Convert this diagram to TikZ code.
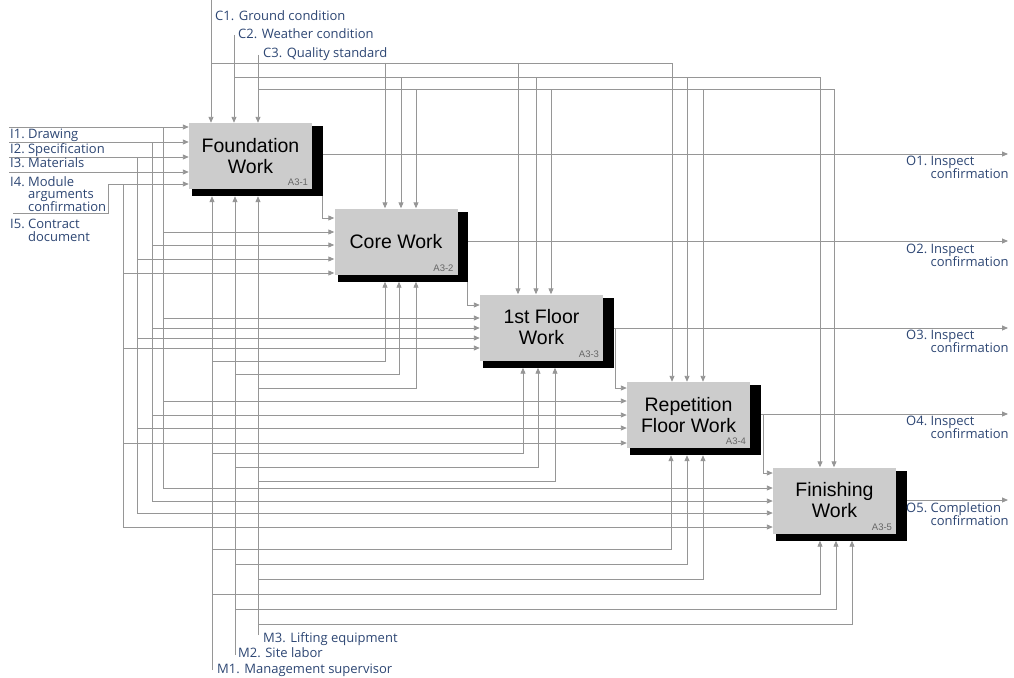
\documentclass[tikz,border=0pt]{standalone}
\usepackage{fontspec}
\setmainfont{Open Sans}
\newfontfamily\boxfont{Liberation Sans}
\usetikzlibrary{arrows.meta,shadows,backgrounds}

\definecolor{wiregray}{RGB}{150,150,150}
\definecolor{lblblue}{RGB}{45,70,115}
\definecolor{boxgray}{RGB}{204,204,204}

\tikzset{
  proc/.style={fill=boxgray, minimum width=123pt, minimum height=66pt, inner sep=0pt,
    align=center, font=\boxfont\fontsize{19.5}{21}\selectfont,
    general shadow={fill=black, shadow xshift=6.5pt, shadow yshift=-5pt, shadow scale=1.06}},
  procid/.style={anchor=south east, inner sep=0pt, text=black!60,
    font=\boxfont\fontsize{9.5}{10}\selectfont},
  lbl/.style={anchor=base west, inner sep=0pt, text=lblblue, font=\fontsize{13}{12.3}\selectfont},
  wire/.style={draw=wiregray, line width=0.9pt},
  arr/.style={wire, -{Triangle[length=6pt,width=5pt]}},
}

\begin{document}
\begin{tikzpicture}[x=1pt, y=-1pt]
  \useasboundingbox (0,0) rectangle (1014,677);

  % Activity boxes
  \node[proc] (A1) at (250.5,156)   {Foundation\\Work};
  \node[proc] (A2) at (396,241.5)   {Core Work};
  \node[proc] (A3) at (541.5,327.5) {1st Floor\\Work};
  \node[proc] (A4) at (688.5,415)   {Repetition\\Floor Work};
  \node[proc] (A5) at (834.5,500.5) {Finishing\\Work};
  \foreach \i in {1,...,5}{
    \node[procid] (A\i id) at ([xshift=-4pt,yshift=3pt]A\i.south east) {A3-\i};
    \coordinate (A\i-bot) at ([yshift=-7pt]A\i.south);
  }

  % Labels
  \node[lbl] (I1) at (10,138) {\begin{tabular}[t]{@{}l@{\ }l@{}}I1. & Drawing\end{tabular}};
  \node[lbl] (I2) at (10,153) {\begin{tabular}[t]{@{}l@{\ }l@{}}I2. & Specification\end{tabular}};
  \node[lbl] (I3) at (10,167) {\begin{tabular}[t]{@{}l@{\ }l@{}}I3. & Materials\end{tabular}};
  \node[lbl] (I4) at (10,186) {\begin{tabular}[t]{@{}l@{\ }l@{}}I4. & Module\\ & arguments\\ & confirmation\end{tabular}};
  \node[lbl] (I5) at (10,228) {\begin{tabular}[t]{@{}l@{\ }l@{}}I5. & Contract\\ & document\end{tabular}};
  \node[lbl] (C1) at (215,21) {C1. Ground condition};
  \node[lbl] (C2) at (238,39) {C2. Weather condition};
  \node[lbl] (C3) at (263,57) {C3. Quality standard};
  \node[lbl] (M3) at (263,642) {M3. Lifting equipment};
  \node[lbl] (M2) at (238,657) {M2. Site labor};
  \node[lbl] (M1) at (217,673) {M1. Management supervisor};
  \foreach \i/\y in {1/165,2/253,3/339,4/425}
    \node[lbl] (O\i) at (906,\y) {\begin{tabular}[t]{@{}l@{\ }l@{}}O\i. & Inspect\\ & confirmation\end{tabular}};
  \node[lbl] (O5) at (906,512) {\begin{tabular}[t]{@{}l@{\ }l@{}}O5. & Completion\\ & confirmation\end{tabular}};

  % Free ends
  \coordinate (i1) at (9,127);   \coordinate (i2) at (9,142);
  \coordinate (i3) at (9,157);   \coordinate (i4) at (9,172);
  \coordinate (i5) at (13,213);
  \coordinate (c1) at (211,0);   \coordinate (c2) at (234,35);
  \coordinate (c3) at (258,55);
  \coordinate (m1) at (212,670); \coordinate (m2) at (235,655);
  \coordinate (m3) at (258,635);
  \foreach \i/\y in {1/154,2/241,3/328,4/414,5/500}
    \coordinate (o\i) at (1008,\y);

  \begin{scope}[on background layer]
    % Inputs
    \foreach \i in {1,...,4}
      \draw[arr] (i\i) -- (A1.west |- i\i);
    \draw[arr] (i5) -- (108,213) -- (108,184) -- (A1.west |- 0,184);
    \foreach \x/\y/\ya/\yb/\yc/\yd in {163/127/232/318/401/488, 152/142/245/328/415/501,
                                        137/157/259/338/428/513, 123/184/273/348/443/527}{
      \draw[wire] (\x,\y) -- (\x,\yd);
      \draw[arr] (\x,\ya) -- (A2.west |- 0,\ya);
      \draw[arr] (\x,\yb) -- (A3.west |- 0,\yb);
      \draw[arr] (\x,\yc) -- (A4.west |- 0,\yc);
      \draw[arr] (\x,\yd) -- (A5.west |- 0,\yd);
    }

    % Controls
    \foreach \i in {1,2,3}
      \draw[arr] (c\i) -- (A1.north -| c\i);
    \draw[arr] (211,63) -- (672,63) -- (A4.north -| 672,0);
    \draw[arr] (234,77) -- (820,77) -- (A5.north -| 820,0);
    \draw[arr] (258,89) -- (834,89) -- (A5.north -| 834,0);
    \foreach \x/\y/\b in {385/63/A2, 518/63/A3, 401/77/A2, 536/77/A3, 687/77/A4,
                          416/89/A2, 551/89/A3, 703/89/A4}
      \draw[arr] (\x,\y) -- (\b.north -| \x,0);

    % Mechanisms
    \foreach \i in {1,2,3}
      \draw[arr] (m\i) -- (A1-bot -| m\i);
    \foreach \x/\y/\t/\b in {212/361/385/A2, 212/453/523/A3, 212/549/671/A4, 212/594/820/A5,
                             235/374/399/A2, 235/467/538/A3, 235/564/687/A4, 235/609/836/A5,
                             258/388/416/A2, 258/481/555/A3, 258/579/703/A4, 258/624/852/A5}
      \draw[arr] (\x,\y) -- (\t,\y) -- (\b-bot -| \t,0);

    % Outputs
    \foreach \a/\b/\i/\x/\yn in {A1/A2/1/322/218, A2/A3/2/467/305, A3/A4/3/615/388, A4/A5/4/763/473}{
      \draw[arr] (\a.east |- o\i) -- (o\i);
      \draw[arr] (\x,0 |- o\i) -- (\x,\yn) -- (\b.west |- 0,\yn);
    }
    \draw[arr] (A5.east |- o5) -- (o5);
  \end{scope}
\end{tikzpicture}
\end{document}
